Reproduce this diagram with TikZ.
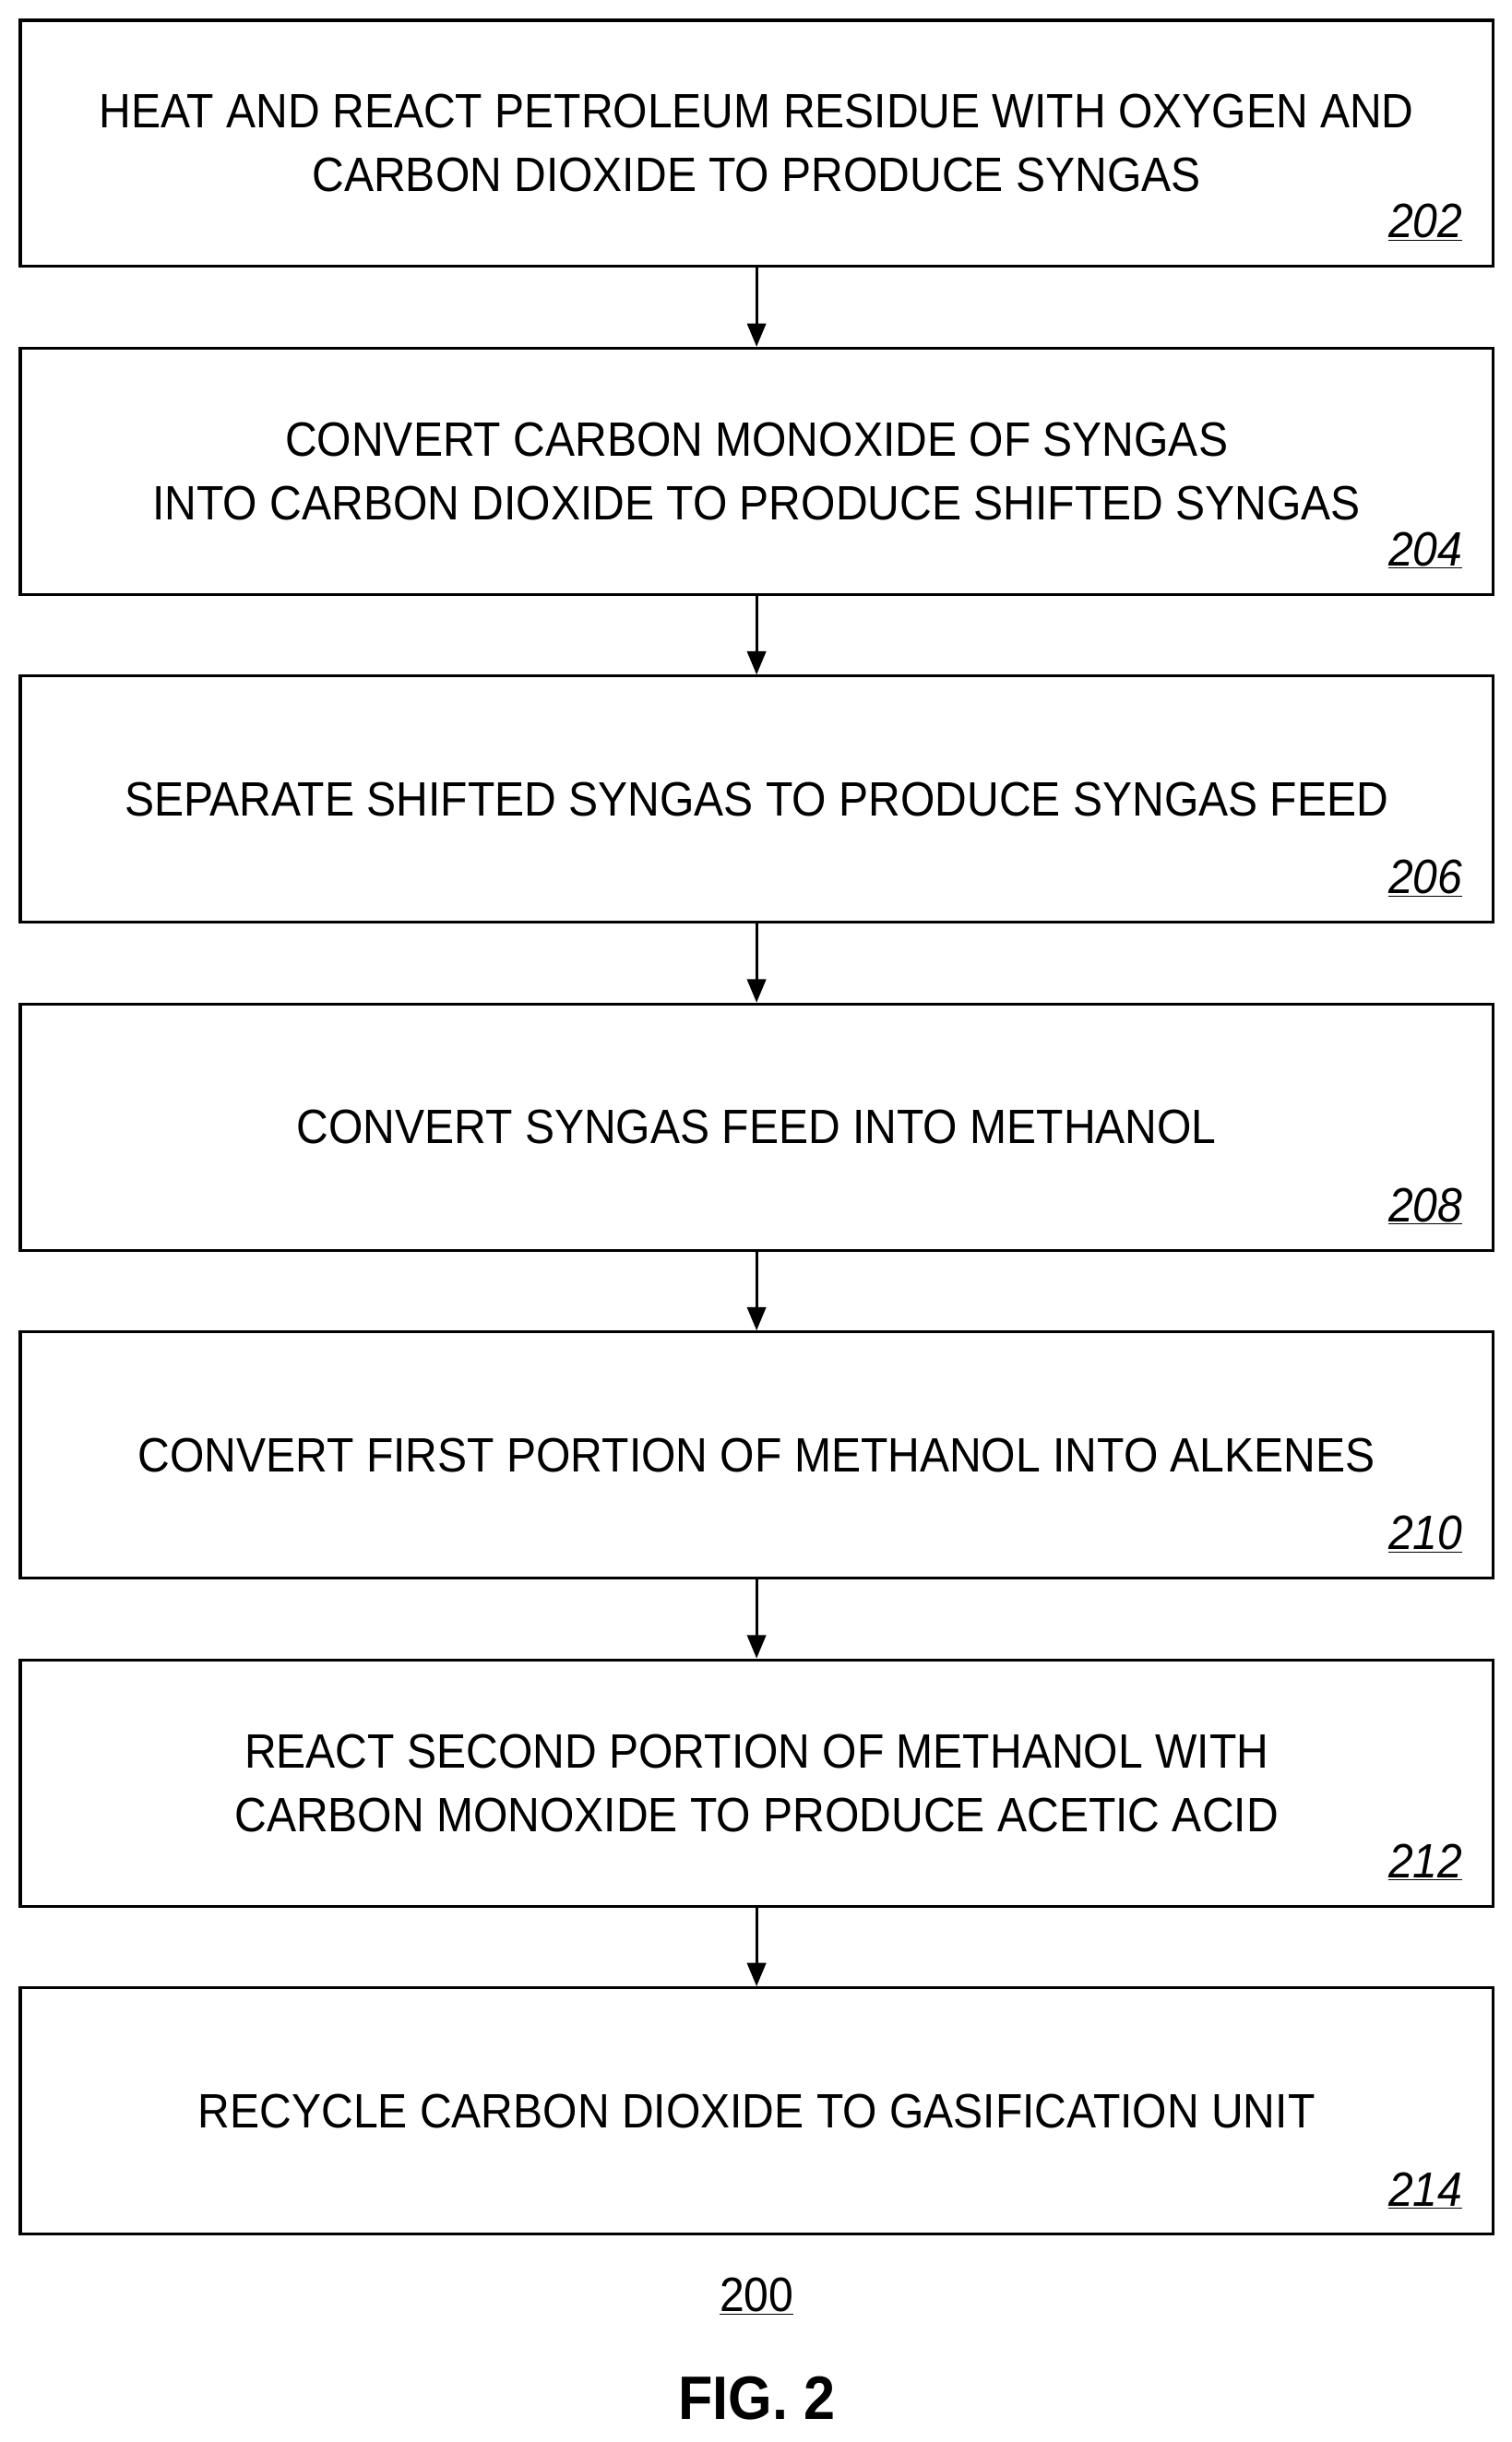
\documentclass[tikz,border=0pt]{standalone}
\usepackage{fontspec}
\setmainfont[FakeStretch=0.92]{Liberation Sans}
\usetikzlibrary{positioning, arrows.meta}

\begin{document}
\begin{tikzpicture}[x=0.05cm, y=-0.05cm]
 \tikzset{stepbox/.style={draw, line width=2.6pt, minimum width=47.25cm,
        minimum height=7.9cm, align=center, inner sep=0pt,
        font=\fontsize{44}{58}\selectfont}}
 \tikzset{ref/.style={font=\fontsize{44}{48}\selectfont\itshape, anchor=south east}}
 \tikzset{flow/.style={line width=2.6pt, -{Triangle[length=0.75cm, width=0.6cm]}}}
 \useasboundingbox (0,0) rectangle (970,1567);
 % steps
 \node[stepbox] (S202) at (485.5,92) {HEAT AND REACT PETROLEUM RESIDUE WITH OXYGEN AND\\CARBON DIOXIDE TO PRODUCE SYNGAS};
 \node[stepbox, below = 2.53cm of S202] (S204) {CONVERT CARBON MONOXIDE OF SYNGAS\\INTO CARBON DIOXIDE TO PRODUCE SHIFTED SYNGAS};
 \node[stepbox, below = 2.53cm of S204] (S206) {SEPARATE SHIFTED SYNGAS TO PRODUCE SYNGAS FEED};
 \node[stepbox, below = 2.53cm of S206] (S208) {CONVERT SYNGAS FEED INTO METHANOL};
 \node[stepbox, below = 2.53cm of S208] (S210) {CONVERT FIRST PORTION OF METHANOL INTO ALKENES};
 \node[stepbox, below = 2.53cm of S210] (S212) {REACT SECOND PORTION OF METHANOL WITH\\CARBON MONOXIDE TO PRODUCE ACETIC ACID};
 \node[stepbox, below = 2.53cm of S212] (S214) {RECYCLE CARBON DIOXIDE TO GASIFICATION UNIT};
 % reference numerals
 \foreach \n in {202,204,206,208,210,212,214}
   \node[ref] at ([xshift=-0.9cm, yshift=0.75cm]S\n.south east) {\underline{\n}};
 % arrows
 \draw[flow] (S202) -- (S204);
 \draw[flow] (S204) -- (S206);
 \draw[flow] (S206) -- (S208);
 \draw[flow] (S208) -- (S210);
 \draw[flow] (S210) -- (S212);
 \draw[flow] (S212) -- (S214);
 \node[font=\fontsize{44}{48}\selectfont, below = 1.25cm of S214] (fig) {\underline{200}};
 \node[font=\fontsize{56}{62}\selectfont\bfseries, below = 1.75cm of fig] (cap) {FIG. 2};
\end{tikzpicture}
\end{document}
